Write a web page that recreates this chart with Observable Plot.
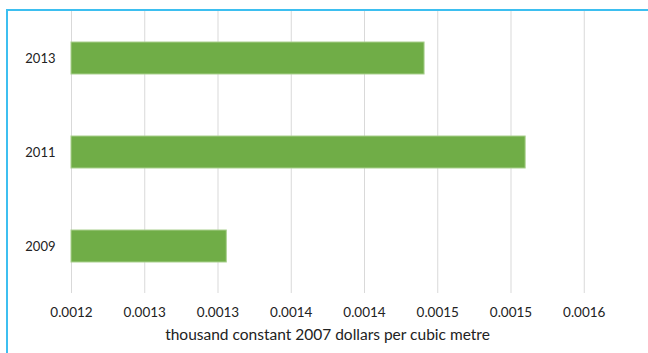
<!DOCTYPE html>
<html>
<head>
<meta charset="utf-8">
<script src="https://cdn.jsdelivr.net/npm/d3@7"></script>
<script src="https://cdn.jsdelivr.net/npm/@observablehq/plot@0.6"></script>
<style>
  html, body { margin: 0; padding: 0; background: #fff; overflow: hidden; width: 648px; height: 353px; }
  #frame { position: absolute; left: 6px; top: 9px; width: 700px; height: 400px;
           border-left: 2px solid #3dbff0; border-top: 2px solid #3dbff0; box-sizing: border-box; }
  #chart { position: absolute; left: 0; top: 0; width: 660px; }
  svg { font-family: Lato, "Open Sans", sans-serif; max-width: none !important; }
</style>
</head>
<body>
<div id="frame"></div>
<div id="chart"></div>
<script>
const years = ["2013", "2011", "2009"];
const values = [0.001441, 0.00151, 0.001306];
const xTicks = [0.0012, 0.00125, 0.0013, 0.00135, 0.0014, 0.00145, 0.0015, 0.00155];
const xTickLabels = ["0.0012", "0.0013", "0.0013", "0.0014", "0.0014", "0.0015", "0.0015", "0.0016"];
const xDomain = [0.0012, 0.0016];
const xTitle = "thousand constant 2007 dollars per cubic metre";

const data = years.map((y, i) => ({year: y, value: values[i]}));

const chart = Plot.plot({
  width: 657,
  height: 353,
  marginLeft: 71,
  marginRight: 0,
  marginTop: 11,
  marginBottom: 60,
  style: {fontSize: "12px", color: "#222", background: "transparent", overflow: "visible", maxWidth: "none"},
  x: {domain: xDomain, ticks: xTicks},
  y: {domain: years, paddingInner: 0.66, paddingOuter: 0.33, align: 0.5},
  marks: [
    Plot.gridX(xTicks, {stroke: "#d9d9d9", strokeOpacity: 1, strokeWidth: 1}),
    Plot.barX(data, {y: "year", x1: xDomain[0], x2: "value", fill: "#70ad47", stroke: "#a9d08e", strokeWidth: 1}),
    Plot.axisX(xTicks, {tickSize: 0, tickPadding: 14, tickFormat: (d, i) => xTickLabels[i],
      label: null, fontSize: 13.5}),
    Plot.text([xTitle], {frameAnchor: "bottom", text: d => d, dx: -37, dy: 42, lineAnchor: "middle",
      fontSize: 15.5, fill: "#222"}),
    Plot.axisY({tickSize: 0, tickPadding: 16, label: null, fontSize: 13})
  ]
});
document.getElementById("chart").appendChild(chart);
</script>
</body>
</html>
